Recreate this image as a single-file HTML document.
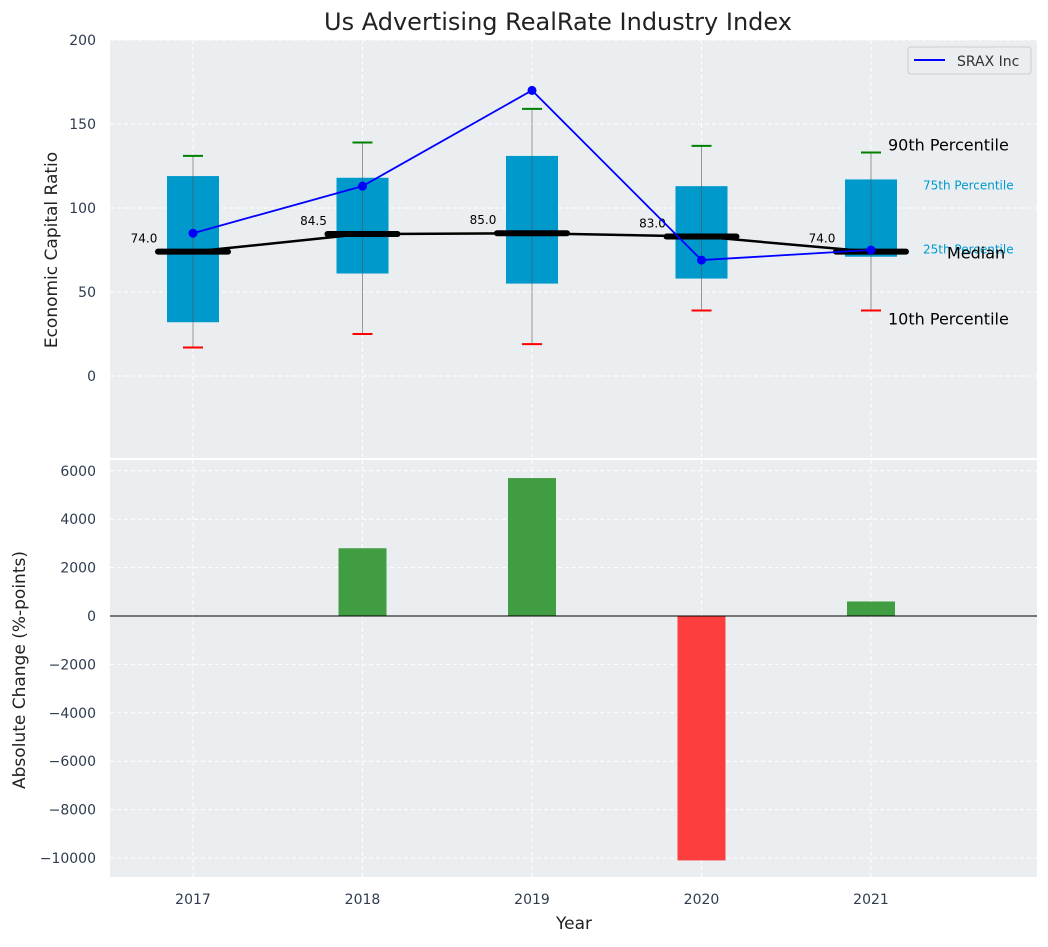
<!DOCTYPE html>
<html><head><meta charset="utf-8"><style>
body{margin:0;background:#fff;font-family:"Liberation Sans","DejaVu Sans",sans-serif}
svg text{font-family:"DejaVu Sans","Liberation Sans",sans-serif}
</style></head><body>
<svg id="chart" width="1048" height="942" xmlns="http://www.w3.org/2000/svg"></svg>
<script>
const years=[2017,2018,2019,2020,2021];
const p10=[17,25,19,39,39];
const p25=[32,61,55,58,71];
const med=[74,84.5,85,83,74];
const p75=[119,118,131,113,117];
const p90=[131,139,159,137,133];
const srax=[85,113,170,69,75];
const change=[0,2800,5700,-10100,600];
const topTicks=[0,50,100,150,200];
const botTicks=[-10000,-8000,-6000,-4000,-2000,0,2000,4000,6000];

const NS="http://www.w3.org/2000/svg";
const svg=document.getElementById('chart');
function el(tag,attrs,parent){const e=document.createElementNS(NS,tag);for(const k in attrs)e.setAttribute(k,attrs[k]);(parent||svg).appendChild(e);return e;}
const L=110,R=1037;
const x=v=>193+(v-2017)*169.5;
const yT=v=>376-(v)*1.68;
const yB=v=>616-v*0.0242;
const T1=40,B1=458,T2=460,B2=877;

el('rect',{x:L,y:T1,width:R-L,height:B1-T1,fill:'#eaeef0'});
el('rect',{x:L,y:T2,width:R-L,height:B2-T2,fill:'#eaeef0'});

function txt(s,a,p){const t=el('text',a,p);t.textContent=s;return t;}
years.forEach(v=>{
  el('line',{x1:x(v),x2:x(v),y1:T1,y2:B1,stroke:'#fff','stroke-dasharray':'4,3','stroke-width':1});
  el('line',{x1:x(v),x2:x(v),y1:T2,y2:B2,stroke:'#fff','stroke-dasharray':'4,3','stroke-width':1});
  const t=txt(v,{x:x(v),y:904,'font-size':14,fill:'#2e3c4f','text-anchor':'middle'});
  
});
topTicks.forEach(v=>{
  el('line',{x1:L,x2:R,y1:yT(v),y2:yT(v),stroke:'#fff','stroke-dasharray':'4,3'});
  const t=txt(v,{x:96,y:yT(v)+5,'font-size':14,fill:'#2e3c4f','text-anchor':'end'});
  
});
botTicks.forEach(v=>{
  el('line',{x1:L,x2:R,y1:yB(v),y2:yB(v),stroke:'#fff','stroke-dasharray':'4,3'});
  const t=txt((v<0?'\u2212'+(-v):v),{x:96,y:yB(v)+5,'font-size':14,fill:'#2e3c4f','text-anchor':'end'});
  
});
years.forEach((v,i)=>{
  const b=el('rect',{x:x(v)-26,y:yT(p75[i]),width:52,height:yT(p25[i])-yT(p75[i]),fill:'#0099cc'});
  
  el('line',{x1:x(v),x2:x(v),y1:yT(p10[i]),y2:yT(p90[i]),stroke:'#555','stroke-opacity':0.6,'stroke-width':1});
  el('line',{x1:x(v)-10,x2:x(v)+10,y1:yT(p90[i]),y2:yT(p90[i]),stroke:'green','stroke-width':2});
  el('line',{x1:x(v)-10,x2:x(v)+10,y1:yT(p10[i]),y2:yT(p10[i]),stroke:'red','stroke-width':2});
});
el('polyline',{points:years.map((v,i)=>x(v)+','+yT(med[i])).join(' '),fill:'none',stroke:'#000','stroke-width':2.5});
years.forEach((v,i)=>{
  const m=el('line',{x1:x(v)-35,x2:x(v)+35,y1:yT(med[i]),y2:yT(med[i]),stroke:'#000','stroke-width':6,'stroke-linecap':'round'});
  
  const t=txt(med[i].toFixed(1),{x:x(v)-49,y:yT(med[i])-9,'font-size':12,fill:'#000','text-anchor':'middle'});
  
});
el('polyline',{points:years.map((v,i)=>x(v)+','+yT(srax[i])).join(' '),fill:'none',stroke:'blue','stroke-width':1.8});
years.forEach((v,i)=>{const c=el('circle',{cx:x(v),cy:yT(srax[i]),r:4.5,fill:'blue'});});
const lx=x(2021);
txt('90th Percentile',{x:lx+17,y:yT(p90[4])-2,'font-size':16,fill:'#000'});
txt('75th Percentile',{x:lx+52,y:yT(p75[4])+10,'font-size':12,fill:'#0099cc'});
txt('25th Percentile',{x:lx+52,y:yT(p25[4])-3,'font-size':12,fill:'#0099cc'});
txt('Median',{x:lx+76,y:yT(med[4])+7,'font-size':16,fill:'#000'});
txt('10th Percentile',{x:lx+17,y:yT(p10[4])+14,'font-size':16,fill:'#000'});
const lg=el('g',{});
el('rect',{x:908,y:47,width:123,height:27,rx:3,fill:'#eaeef0',stroke:'#ccc'},lg);
el('line',{x1:914,x2:945,y1:60,y2:60,stroke:'blue','stroke-width':2},lg);
txt('SRAX Inc',{x:957,y:66,'font-size':14,fill:'#333'},lg);
years.forEach((v,i)=>{
  const y0=yB(0),y1=yB(change[i]);
  const b=el('rect',{x:x(v)-24,y:Math.min(y0,y1),width:48,height:Math.abs(y1-y0),fill:change[i]>=0?'#2e942e':'#ff2a2a','fill-opacity':0.9});
  
});
el('line',{x1:L,x2:R,y1:yB(0),y2:yB(0),stroke:'#000','stroke-width':1});
txt('Us Advertising RealRate Industry Index',{x:558,y:30,'font-size':24,fill:'#222','text-anchor':'middle'});
txt('Economic Capital Ratio',{x:0,y:0,'font-size':17,fill:'#222','text-anchor':'middle',transform:'translate(57,250) rotate(-90)'});
txt('Absolute Change (%-points)',{x:0,y:0,'font-size':17,fill:'#222','text-anchor':'middle',transform:'translate(25,670) rotate(-90)'});
txt('Year',{x:574,y:929,'font-size':17,fill:'#222','text-anchor':'middle'});
</script>
</body></html>
